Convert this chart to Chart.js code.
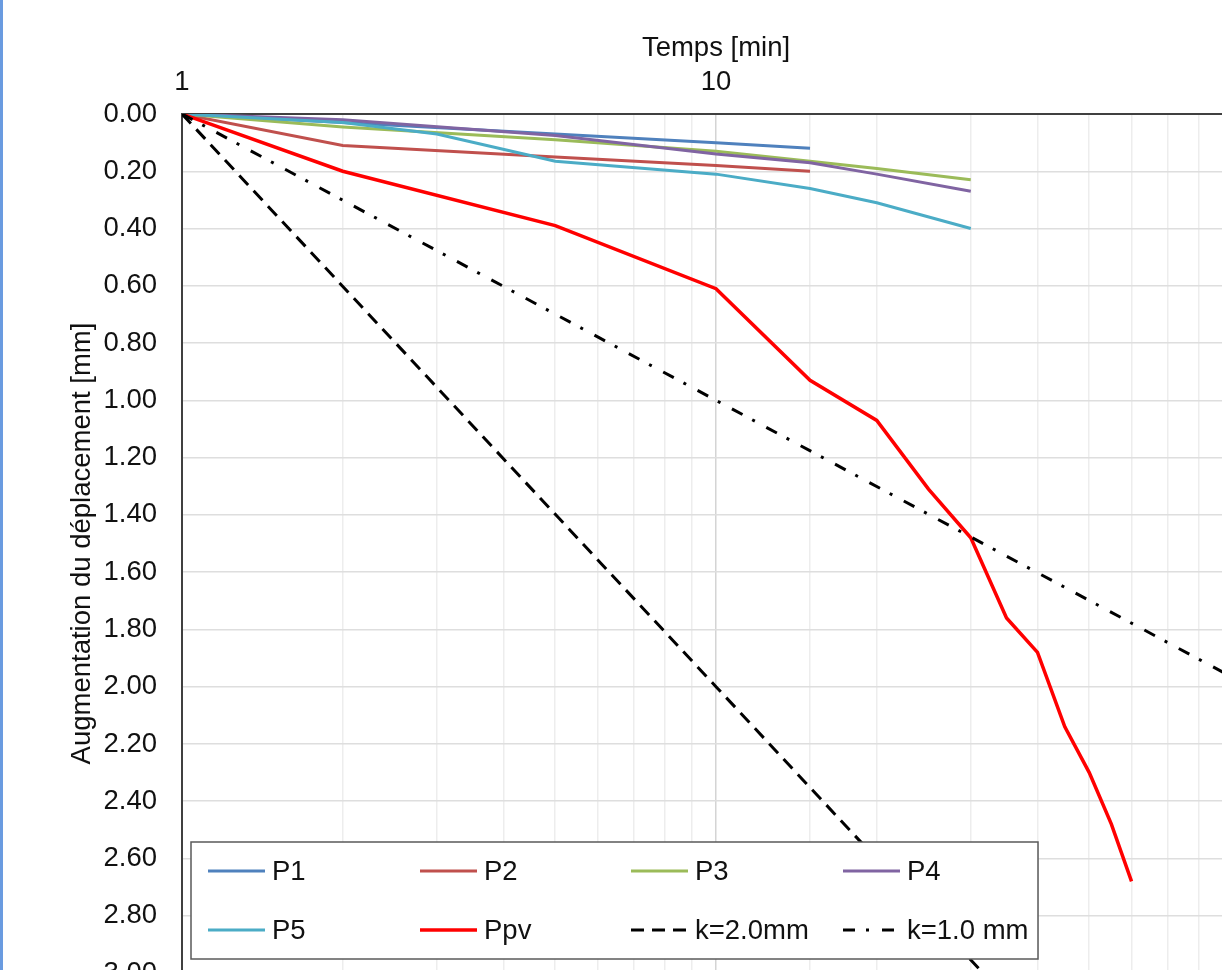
<!DOCTYPE html>
<html>
<head>
<meta charset="utf-8">
<title>Augmentation du déplacement</title>
<script src="https://cdn.jsdelivr.net/npm/chart.js@4.4.1/dist/chart.umd.min.js"></script>
<style>
    html, body { margin: 0; padding: 0; background: #fff; overflow: hidden; width: 1222px; height: 970px; }
    #edge { position: absolute; left: 0; top: 0; width: 3px; height: 970px; background: #6a9be0; z-index: 2; }
    #creepChart { position: absolute; left: 0; top: 0; }
</style>
</head>
<body>
<div id="edge"></div>
<canvas id="creepChart" width="1262" height="1000"></canvas>
<script>
// Temps [min] et augmentation du déplacement [mm]
const tP12 = [1, 2, 5, 10, 15];
const p1 = [0, 0.03, 0.07, 0.10, 0.12];
const p2 = [0, 0.11, 0.15, 0.18, 0.20];

const tP34 = [1, 2, 5, 10, 15, 20, 30];
const p3 = [0, 0.045, 0.09, 0.13, 0.165, 0.19, 0.23];
const p4 = [0, 0.02, 0.075, 0.14, 0.17, 0.21, 0.27];

const tP5 = [1, 2, 3, 5, 10, 15, 20, 30];
const p5 = [0, 0.03, 0.07, 0.165, 0.21, 0.26, 0.31, 0.40];

const tPpv = [1, 2, 5, 10, 15, 20, 25, 30, 35, 40, 45, 50, 55, 60];
const ppv = [0, 0.20, 0.39, 0.61, 0.93, 1.07, 1.31, 1.48, 1.76, 1.88, 2.14, 2.30, 2.48, 2.68];

// droites de référence k = déplacement par décade
const tK = [1, 10, 100];
const k2 = [0, 2.0, 4.0];
const k1 = [0, 1.0, 2.0];

const seriesLabels = ["P1", "P2", "P3", "P4", "P5", "Ppv", "k=2.0mm", "k=1.0 mm"];

const FONT = "'Liberation Sans', Arial, sans-serif";
const FSIZE = 27.5;

function pts(t, v) {
    return t.map(function (x, i) { return { x: x, y: v[i] }; });
}

function isDecade(v) {
    const l = Math.log10(v);
    return Math.abs(l - Math.round(l)) < 1e-9;
}

// pas de marge automatique pour les étiquettes qui débordent
function noOverflow(scale) {
    scale.paddingLeft = 0;
    scale.paddingRight = 0;
    scale.paddingTop = 0;
    scale.paddingBottom = 0;
}

// légende encadrée dans le coin bas gauche du graphique
const boxLegend = {
    id: "boxLegend",
    afterDraw: function (chart) {
        const ctx = chart.ctx;
        const area = chart.chartArea;
        const x0 = area.left + 9, y0 = area.bottom - 131;
        const w = 847, h = 117;
        ctx.save();
        ctx.fillStyle = "#fff";
        ctx.fillRect(x0, y0, w, h);
        ctx.strokeStyle = "#5a5a5a";
        ctx.lineWidth = 1.5;
        ctx.strokeRect(x0, y0, w, h);

        const colX = [17, 229, 440, 652];
        const rowY = [29, 88];
        ctx.font = FSIZE + "px " + FONT;
        ctx.textBaseline = "middle";
        ctx.textAlign = "left";
        chart.data.datasets.forEach(function (ds, i) {
            const cx = x0 + colX[i % 4];
            const cy = y0 + rowY[Math.floor(i / 4)];
            ctx.beginPath();
            ctx.strokeStyle = ds.borderColor;
            ctx.lineWidth = ds.borderWidth;
            ctx.setLineDash(ds.borderDash || []);
            ctx.moveTo(cx, cy);
            ctx.lineTo(cx + 57, cy);
            ctx.stroke();
            ctx.setLineDash([]);
            ctx.fillStyle = "#111";
            ctx.fillText(ds.label, cx + 64, cy + 1);
        });
        ctx.restore();
    }
};

function line(label, data, color, width, dash, idx) {
    return {
        label: label,
        data: data,
        borderColor: color,
        backgroundColor: color,
        borderWidth: width,
        borderDash: dash || [],
        pointRadius: 0,
        tension: 0,
        fill: false,
        order: -idx
    };
}

const ctx = document.getElementById("creepChart").getContext("2d");
new Chart(ctx, {
    type: "line",
    data: {
        datasets: [
            line(seriesLabels[0], pts(tP12, p1), "#4f81bd", 3, null, 0),
            line(seriesLabels[1], pts(tP12, p2), "#c0504d", 3, null, 1),
            line(seriesLabels[2], pts(tP34, p3), "#9bbb59", 3, null, 2),
            line(seriesLabels[3], pts(tP34, p4), "#8064a2", 3, null, 3),
            line(seriesLabels[4], pts(tP5, p5), "#4bacc6", 3, null, 4),
            line(seriesLabels[5], pts(tPpv, ppv), "#ff0000", 3.5, null, 5),
            line(seriesLabels[6], pts(tK, k2), "#000000", 3, [13, 8], 6),
            line(seriesLabels[7], pts(tK, k1), "#000000", 3, [12, 11, 3, 13], 7)
        ]
    },
    options: {
        responsive: false,
        animation: false,
        devicePixelRatio: 1,
        layout: { autoPadding: false, padding: { left: 0, top: 0, right: 12, bottom: 27 } },
        plugins: {
            legend: { display: false },
            tooltip: { enabled: false }
        },
        scales: {
            x: {
                type: "logarithmic",
                position: "top",
                min: 1,
                max: 100,
                afterFit: function (scale) { scale.height = 114; noOverflow(scale); },
                title: {
                    display: true,
                    text: "Temps [min]",
                    color: "#111",
                    font: { family: FONT, size: FSIZE },
                    padding: { top: 32, bottom: 0 }
                },
                ticks: {
                    autoSkip: false,
                    maxRotation: 0,
                    color: "#111",
                    padding: 15,
                    font: { family: FONT, size: FSIZE },
                    callback: function (v) { return isDecade(v) ? String(v) : ""; }
                },
                grid: {
                    drawTicks: false,
                    lineWidth: 1.5,
                    color: function (c) {
                        return c.tick && isDecade(c.tick.value) ? "#d4d4d4" : "#ededed";
                    }
                },
                border: { display: true, color: "#404040", width: 2 }
            },
            y: {
                reverse: true,
                min: 0,
                max: 3,
                afterFit: function (scale) { scale.width = 182; noOverflow(scale); },
                title: {
                    display: true,
                    text: "Augmentation du déplacement [mm]",
                    color: "#111",
                    font: { family: FONT, size: FSIZE },
                    padding: { top: 66, bottom: 0 }
                },
                ticks: {
                    stepSize: 0.2,
                    color: "#111",
                    padding: 25,
                    font: { family: FONT, size: FSIZE },
                    callback: function (v) { return Number(v).toFixed(2); }
                },
                grid: {
                    drawTicks: false,
                    lineWidth: 1.5,
                    color: "#dedede"
                },
                border: { display: true, color: "#404040", width: 2 }
            }
        }
    },
    plugins: [boxLegend]
});
</script>
</body>
</html>
